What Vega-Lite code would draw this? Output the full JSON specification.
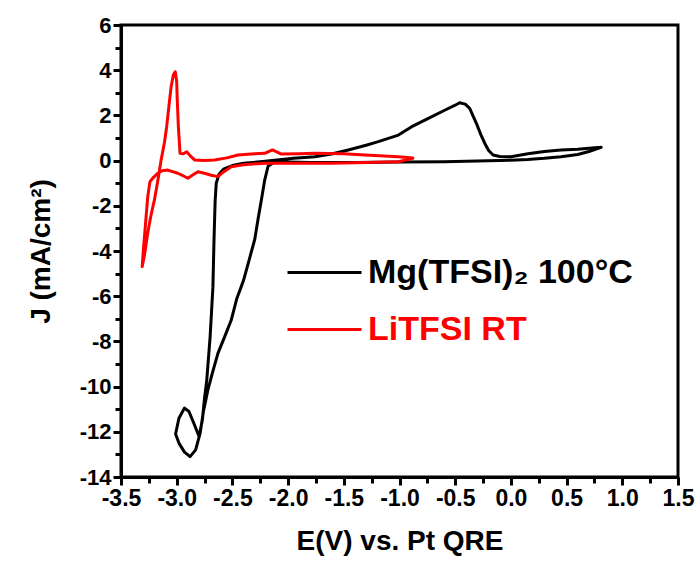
{
  "$schema": "https://vega.github.io/schema/vega-lite/v6.json",
  "width": 557,
  "height": 452,
  "autosize": "none",
  "padding": {"left": 121, "top": 25, "right": 22, "bottom": 86},
  "background": "white",
  "config": {
    "view": {"stroke": "black", "strokeWidth": 3},
    "font": "Liberation Sans"
  },
  "data": {
    "values": [
      {"s": "Mg(TFSI)₂ 100°C", "i": 1, "E": 0.81, "J": 0.59},
      {"s": "Mg(TFSI)₂ 100°C", "i": 2, "E": 0.7, "J": 0.4},
      {"s": "Mg(TFSI)₂ 100°C", "i": 3, "E": 0.6, "J": 0.27},
      {"s": "Mg(TFSI)₂ 100°C", "i": 4, "E": 0.45, "J": 0.17},
      {"s": "Mg(TFSI)₂ 100°C", "i": 5, "E": 0.3, "J": 0.1},
      {"s": "Mg(TFSI)₂ 100°C", "i": 6, "E": 0.15, "J": 0.05},
      {"s": "Mg(TFSI)₂ 100°C", "i": 7, "E": 0.0, "J": 0.02},
      {"s": "Mg(TFSI)₂ 100°C", "i": 8, "E": -0.3, "J": -0.02},
      {"s": "Mg(TFSI)₂ 100°C", "i": 9, "E": -0.6, "J": -0.05},
      {"s": "Mg(TFSI)₂ 100°C", "i": 10, "E": -1.0, "J": -0.06},
      {"s": "Mg(TFSI)₂ 100°C", "i": 11, "E": -1.4, "J": -0.08},
      {"s": "Mg(TFSI)₂ 100°C", "i": 12, "E": -1.8, "J": -0.08},
      {"s": "Mg(TFSI)₂ 100°C", "i": 13, "E": -2.0, "J": -0.06},
      {"s": "Mg(TFSI)₂ 100°C", "i": 14, "E": -2.12, "J": -0.05},
      {"s": "Mg(TFSI)₂ 100°C", "i": 15, "E": -2.18, "J": -0.25},
      {"s": "Mg(TFSI)₂ 100°C", "i": 16, "E": -2.21, "J": -0.86},
      {"s": "Mg(TFSI)₂ 100°C", "i": 17, "E": -2.24, "J": -1.74},
      {"s": "Mg(TFSI)₂ 100°C", "i": 18, "E": -2.27, "J": -2.6},
      {"s": "Mg(TFSI)₂ 100°C", "i": 19, "E": -2.3, "J": -3.5},
      {"s": "Mg(TFSI)₂ 100°C", "i": 20, "E": -2.35, "J": -4.4},
      {"s": "Mg(TFSI)₂ 100°C", "i": 21, "E": -2.4, "J": -5.3},
      {"s": "Mg(TFSI)₂ 100°C", "i": 22, "E": -2.46, "J": -6.1},
      {"s": "Mg(TFSI)₂ 100°C", "i": 23, "E": -2.51, "J": -7.05},
      {"s": "Mg(TFSI)₂ 100°C", "i": 24, "E": -2.57, "J": -7.8},
      {"s": "Mg(TFSI)₂ 100°C", "i": 25, "E": -2.63, "J": -8.53},
      {"s": "Mg(TFSI)₂ 100°C", "i": 26, "E": -2.68, "J": -9.4},
      {"s": "Mg(TFSI)₂ 100°C", "i": 27, "E": -2.72, "J": -10.15},
      {"s": "Mg(TFSI)₂ 100°C", "i": 28, "E": -2.76, "J": -11.1},
      {"s": "Mg(TFSI)₂ 100°C", "i": 29, "E": -2.79, "J": -12.07},
      {"s": "Mg(TFSI)₂ 100°C", "i": 30, "E": -2.83, "J": -12.8},
      {"s": "Mg(TFSI)₂ 100°C", "i": 31, "E": -2.88, "J": -13.1},
      {"s": "Mg(TFSI)₂ 100°C", "i": 32, "E": -2.93, "J": -12.9},
      {"s": "Mg(TFSI)₂ 100°C", "i": 33, "E": -2.98, "J": -12.5},
      {"s": "Mg(TFSI)₂ 100°C", "i": 34, "E": -3.01, "J": -12.1},
      {"s": "Mg(TFSI)₂ 100°C", "i": 35, "E": -2.98, "J": -11.4},
      {"s": "Mg(TFSI)₂ 100°C", "i": 36, "E": -2.93, "J": -10.95},
      {"s": "Mg(TFSI)₂ 100°C", "i": 37, "E": -2.89, "J": -11.1},
      {"s": "Mg(TFSI)₂ 100°C", "i": 38, "E": -2.84, "J": -11.7},
      {"s": "Mg(TFSI)₂ 100°C", "i": 39, "E": -2.8, "J": -12.2},
      {"s": "Mg(TFSI)₂ 100°C", "i": 40, "E": -2.77, "J": -11.5},
      {"s": "Mg(TFSI)₂ 100°C", "i": 41, "E": -2.75, "J": -10.5},
      {"s": "Mg(TFSI)₂ 100°C", "i": 42, "E": -2.73, "J": -9.7},
      {"s": "Mg(TFSI)₂ 100°C", "i": 43, "E": -2.7, "J": -7.8},
      {"s": "Mg(TFSI)₂ 100°C", "i": 44, "E": -2.675, "J": -5.6},
      {"s": "Mg(TFSI)₂ 100°C", "i": 45, "E": -2.665, "J": -3.5},
      {"s": "Mg(TFSI)₂ 100°C", "i": 46, "E": -2.655, "J": -1.8},
      {"s": "Mg(TFSI)₂ 100°C", "i": 47, "E": -2.645, "J": -1.0},
      {"s": "Mg(TFSI)₂ 100°C", "i": 48, "E": -2.62, "J": -0.6},
      {"s": "Mg(TFSI)₂ 100°C", "i": 49, "E": -2.58, "J": -0.38},
      {"s": "Mg(TFSI)₂ 100°C", "i": 50, "E": -2.5, "J": -0.22},
      {"s": "Mg(TFSI)₂ 100°C", "i": 51, "E": -2.4, "J": -0.12},
      {"s": "Mg(TFSI)₂ 100°C", "i": 52, "E": -2.25, "J": -0.05},
      {"s": "Mg(TFSI)₂ 100°C", "i": 53, "E": -2.1, "J": 0.03},
      {"s": "Mg(TFSI)₂ 100°C", "i": 54, "E": -1.95, "J": 0.1},
      {"s": "Mg(TFSI)₂ 100°C", "i": 55, "E": -1.76, "J": 0.17},
      {"s": "Mg(TFSI)₂ 100°C", "i": 56, "E": -1.6, "J": 0.3},
      {"s": "Mg(TFSI)₂ 100°C", "i": 57, "E": -1.46, "J": 0.47},
      {"s": "Mg(TFSI)₂ 100°C", "i": 58, "E": -1.3, "J": 0.68},
      {"s": "Mg(TFSI)₂ 100°C", "i": 59, "E": -1.19, "J": 0.84},
      {"s": "Mg(TFSI)₂ 100°C", "i": 60, "E": -1.01, "J": 1.13},
      {"s": "Mg(TFSI)₂ 100°C", "i": 61, "E": -0.89, "J": 1.5},
      {"s": "Mg(TFSI)₂ 100°C", "i": 62, "E": -0.75, "J": 1.85},
      {"s": "Mg(TFSI)₂ 100°C", "i": 63, "E": -0.59, "J": 2.24},
      {"s": "Mg(TFSI)₂ 100°C", "i": 64, "E": -0.5, "J": 2.45},
      {"s": "Mg(TFSI)₂ 100°C", "i": 65, "E": -0.46, "J": 2.56},
      {"s": "Mg(TFSI)₂ 100°C", "i": 66, "E": -0.41, "J": 2.5},
      {"s": "Mg(TFSI)₂ 100°C", "i": 67, "E": -0.37, "J": 2.31},
      {"s": "Mg(TFSI)₂ 100°C", "i": 68, "E": -0.31, "J": 1.65},
      {"s": "Mg(TFSI)₂ 100°C", "i": 69, "E": -0.27, "J": 1.15},
      {"s": "Mg(TFSI)₂ 100°C", "i": 70, "E": -0.235, "J": 0.77},
      {"s": "Mg(TFSI)₂ 100°C", "i": 71, "E": -0.2, "J": 0.45},
      {"s": "Mg(TFSI)₂ 100°C", "i": 72, "E": -0.16, "J": 0.25},
      {"s": "Mg(TFSI)₂ 100°C", "i": 73, "E": -0.1, "J": 0.18},
      {"s": "Mg(TFSI)₂ 100°C", "i": 74, "E": 0.0, "J": 0.17},
      {"s": "Mg(TFSI)₂ 100°C", "i": 75, "E": 0.153, "J": 0.3},
      {"s": "Mg(TFSI)₂ 100°C", "i": 76, "E": 0.3, "J": 0.4},
      {"s": "Mg(TFSI)₂ 100°C", "i": 77, "E": 0.45, "J": 0.47},
      {"s": "Mg(TFSI)₂ 100°C", "i": 78, "E": 0.6, "J": 0.5},
      {"s": "Mg(TFSI)₂ 100°C", "i": 79, "E": 0.7, "J": 0.55},
      {"s": "Mg(TFSI)₂ 100°C", "i": 80, "E": 0.81, "J": 0.59},
      {"s": "LiTFSI RT", "i": 1, "E": -0.88, "J": 0.1},
      {"s": "LiTFSI RT", "i": 2, "E": -1.01, "J": -0.05},
      {"s": "LiTFSI RT", "i": 3, "E": -1.3, "J": -0.08},
      {"s": "LiTFSI RT", "i": 4, "E": -1.61, "J": -0.12},
      {"s": "LiTFSI RT", "i": 5, "E": -1.9, "J": -0.12},
      {"s": "LiTFSI RT", "i": 6, "E": -2.21, "J": -0.12},
      {"s": "LiTFSI RT", "i": 7, "E": -2.4, "J": -0.18},
      {"s": "LiTFSI RT", "i": 8, "E": -2.51, "J": -0.27},
      {"s": "LiTFSI RT", "i": 9, "E": -2.58, "J": -0.5},
      {"s": "LiTFSI RT", "i": 10, "E": -2.63, "J": -0.71},
      {"s": "LiTFSI RT", "i": 11, "E": -2.69, "J": -0.65},
      {"s": "LiTFSI RT", "i": 12, "E": -2.75, "J": -0.56},
      {"s": "LiTFSI RT", "i": 13, "E": -2.81, "J": -0.49},
      {"s": "LiTFSI RT", "i": 14, "E": -2.86, "J": -0.65},
      {"s": "LiTFSI RT", "i": 15, "E": -2.9, "J": -0.78},
      {"s": "LiTFSI RT", "i": 16, "E": -2.95, "J": -0.65},
      {"s": "LiTFSI RT", "i": 17, "E": -2.99, "J": -0.56},
      {"s": "LiTFSI RT", "i": 18, "E": -3.08, "J": -0.42},
      {"s": "LiTFSI RT", "i": 19, "E": -3.13, "J": -0.45},
      {"s": "LiTFSI RT", "i": 20, "E": -3.17, "J": -0.56},
      {"s": "LiTFSI RT", "i": 21, "E": -3.21, "J": -0.75},
      {"s": "LiTFSI RT", "i": 22, "E": -3.24, "J": -0.93},
      {"s": "LiTFSI RT", "i": 23, "E": -3.26, "J": -1.6},
      {"s": "LiTFSI RT", "i": 24, "E": -3.28, "J": -2.8},
      {"s": "LiTFSI RT", "i": 25, "E": -3.3, "J": -4.0},
      {"s": "LiTFSI RT", "i": 26, "E": -3.31, "J": -4.69},
      {"s": "LiTFSI RT", "i": 27, "E": -3.29, "J": -4.2},
      {"s": "LiTFSI RT", "i": 28, "E": -3.26, "J": -3.2},
      {"s": "LiTFSI RT", "i": 29, "E": -3.23, "J": -2.4},
      {"s": "LiTFSI RT", "i": 30, "E": -3.2, "J": -1.74},
      {"s": "LiTFSI RT", "i": 31, "E": -3.17, "J": -0.9},
      {"s": "LiTFSI RT", "i": 32, "E": -3.14, "J": 0.03},
      {"s": "LiTFSI RT", "i": 33, "E": -3.11, "J": 0.8},
      {"s": "LiTFSI RT", "i": 34, "E": -3.09, "J": 1.5},
      {"s": "LiTFSI RT", "i": 35, "E": -3.07, "J": 2.4},
      {"s": "LiTFSI RT", "i": 36, "E": -3.05, "J": 3.27},
      {"s": "LiTFSI RT", "i": 37, "E": -3.03, "J": 3.8},
      {"s": "LiTFSI RT", "i": 38, "E": -3.013, "J": 3.93},
      {"s": "LiTFSI RT", "i": 39, "E": -3.0, "J": 3.5},
      {"s": "LiTFSI RT", "i": 40, "E": -2.995, "J": 2.68},
      {"s": "LiTFSI RT", "i": 41, "E": -2.985, "J": 1.5},
      {"s": "LiTFSI RT", "i": 42, "E": -2.97, "J": 0.32},
      {"s": "LiTFSI RT", "i": 43, "E": -2.94, "J": 0.3},
      {"s": "LiTFSI RT", "i": 44, "E": -2.91, "J": 0.39},
      {"s": "LiTFSI RT", "i": 45, "E": -2.88, "J": 0.22},
      {"s": "LiTFSI RT", "i": 46, "E": -2.84, "J": 0.03},
      {"s": "LiTFSI RT", "i": 47, "E": -2.75, "J": 0.0},
      {"s": "LiTFSI RT", "i": 48, "E": -2.66, "J": 0.03},
      {"s": "LiTFSI RT", "i": 49, "E": -2.55, "J": 0.12},
      {"s": "LiTFSI RT", "i": 50, "E": -2.45, "J": 0.25},
      {"s": "LiTFSI RT", "i": 51, "E": -2.3, "J": 0.3},
      {"s": "LiTFSI RT", "i": 52, "E": -2.21, "J": 0.32},
      {"s": "LiTFSI RT", "i": 53, "E": -2.14, "J": 0.47},
      {"s": "LiTFSI RT", "i": 54, "E": -2.06, "J": 0.29},
      {"s": "LiTFSI RT", "i": 55, "E": -1.9, "J": 0.3},
      {"s": "LiTFSI RT", "i": 56, "E": -1.76, "J": 0.32},
      {"s": "LiTFSI RT", "i": 57, "E": -1.5, "J": 0.3},
      {"s": "LiTFSI RT", "i": 58, "E": -1.31, "J": 0.25},
      {"s": "LiTFSI RT", "i": 59, "E": -1.01, "J": 0.17},
      {"s": "LiTFSI RT", "i": 60, "E": -0.88, "J": 0.12}
    ]
  },
  "mark": {"type": "line", "strokeWidth": 3, "strokeJoin": "round", "strokeCap": "round", "clip": true},
  "encoding": {
    "x": {
      "field": "E",
      "type": "quantitative",
      "scale": {"domain": [-3.5, 1.5], "nice": false, "zero": false},
      "axis": {
        "title": "E(V) vs. Pt QRE",
        "values": [-3.5, -3.25, -3.0, -2.75, -2.5, -2.25, -2.0, -1.75, -1.5, -1.25, -1.0, -0.75, -0.5, -0.25, 0, 0.25, 0.5, 0.75, 1.0, 1.25, 1.5],
        "labelExpr": "abs(datum.value*2 - round(datum.value*2)) < 0.01 ? replace(format(datum.value, '.1f'), '\u2212', '-') : ''",
        "tickSize": {"condition": {"test": "abs(datum.value*2 - round(datum.value*2)) < 0.01", "value": 8}, "value": 6},
        "grid": false,
        "domainColor": "black",
        "domainWidth": 3,
        "tickColor": "black",
        "tickWidth": 3,
        "labelColor": "black",
        "labelFont": "Liberation Sans",
        "labelFontSize": 23,
        "labelFontWeight": "bold",
        "labelPadding": 2,
        "labelOverlap": false,
        "labelFlush": false,
        "titleColor": "black",
        "titleFont": "Liberation Sans",
        "titleFontSize": 28,
        "titleFontWeight": "bold",
        "titlePadding": 17
      }
    },
    "y": {
      "field": "J",
      "type": "quantitative",
      "scale": {"domain": [-14, 6], "nice": false, "zero": false},
      "axis": {
        "title": "J (mA/cm²)",
        "values": [-14, -13, -12, -11, -10, -9, -8, -7, -6, -5, -4, -3, -2, -1, 0, 1, 2, 3, 4, 5, 6],
        "labelExpr": "datum.value % 2 == 0 ? replace(format(datum.value, 'd'), '\u2212', '-') : ''",
        "tickSize": {"condition": {"test": "datum.value % 2 == 0", "value": 8}, "value": 6},
        "grid": false,
        "domainColor": "black",
        "domainWidth": 3,
        "tickColor": "black",
        "tickWidth": 3,
        "labelColor": "black",
        "labelFont": "Liberation Sans",
        "labelFontSize": 22,
        "labelFontWeight": "bold",
        "labelPadding": 2,
        "labelOverlap": false,
        "labelFlush": false,
        "titleColor": "black",
        "titleFont": "Liberation Sans",
        "titleFontSize": 28,
        "titleFontWeight": "bold",
        "titlePadding": 24
      }
    },
    "color": {
      "field": "s",
      "type": "nominal",
      "scale": {"domain": ["Mg(TFSI)₂ 100°C", "LiTFSI RT"], "range": ["#000000", "#ff0000"]},
      "legend": {
        "title": null,
        "orient": "none",
        "legendX": 165,
        "legendY": 209,
        "padding": 0,
        "symbolType": "stroke",
        "symbolSize": 5476,
        "symbolStrokeWidth": 3,
        "labelFont": "Liberation Sans",
        "labelFontSize": 34,
        "labelFontWeight": "bold",
        "labelOffset": 5,
        "labelLimit": 400,
        "rowPadding": 1,
        "encode": {
          "labels": {"update": {"fill": {"signal": "datum.label == 'LiTFSI RT' ? '#ff0000' : '#000000'"}}}
        }
      }
    },
    "order": {"field": "i", "type": "quantitative"}
  }
}
